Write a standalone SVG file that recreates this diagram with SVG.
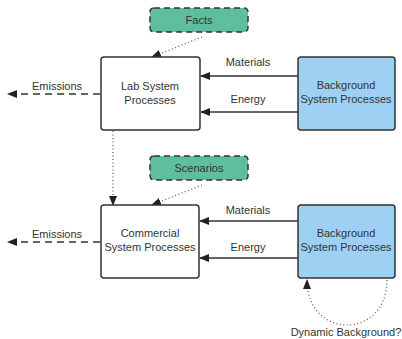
<svg xmlns="http://www.w3.org/2000/svg" width="402" height="339" viewBox="0 0 402 339">
<style>
.box{fill:#fff;stroke:#333;stroke-width:1.5}
.bg{fill:#9dd0f2;stroke:#333;stroke-width:1.5}
.note{fill:#5fbea0;stroke:#333;stroke-width:1.5;stroke-dasharray:6 4}
.t{font-family:"Liberation Sans",Arial,sans-serif;font-size:11px;fill:#333;text-anchor:middle}
.solid{fill:none;stroke:#333;stroke-width:1.5}
.dash{fill:none;stroke:#333;stroke-width:1.5;stroke-dasharray:7 5}
.dot{fill:none;stroke:#555;stroke-width:1.2;stroke-dasharray:1 2.5}
</style>
<defs>
<marker id="ah" markerWidth="10" markerHeight="8" refX="9" refY="4" orient="auto" markerUnits="userSpaceOnUse">
<path d="M0,0 L10,4 L0,8 Z" fill="#222"/>
</marker>
</defs>
<rect width="402" height="339" fill="#fff"/>
<g id="connectors">
<line class="solid" x1="298" y1="76" x2="201" y2="76" marker-end="url(#ah)"/>
<line class="solid" x1="298" y1="112" x2="201" y2="112" marker-end="url(#ah)"/>
<line class="solid" x1="298" y1="221" x2="200" y2="221" marker-end="url(#ah)"/>
<line class="solid" x1="298" y1="258" x2="200" y2="258" marker-end="url(#ah)"/>
<line class="dash" x1="100" y1="94" x2="8" y2="94" marker-end="url(#ah)"/>
<line class="dash" x1="100" y1="242" x2="8" y2="242" marker-end="url(#ah)"/>
<line class="dot" x1="202" y1="37" x2="152" y2="57" marker-end="url(#ah)"/>
<line class="dot" x1="202" y1="185" x2="152" y2="205" marker-end="url(#ah)"/>
<line class="dot" x1="113" y1="131" x2="113" y2="205" marker-end="url(#ah)"/>
<path class="dot" d="M387,280 C387,340 307,340 307,280" marker-end="url(#ah)"/>
<text class="t" x="57" y="90">Emissions</text>
<text class="t" x="57" y="238">Emissions</text>
<text class="t" x="248" y="66">Materials</text>
<text class="t" x="248" y="103">Energy</text>
<text class="t" x="248" y="214">Materials</text>
<text class="t" x="248" y="251">Energy</text>
<text class="t" x="346" y="336">Dynamic Background?</text>
</g>
<g id="facts">
<rect class="note" x="150" y="8" width="98" height="24" rx="4"/>
<text class="t" x="199" y="24">Facts</text>
</g>
<g id="scenarios">
<rect class="note" x="150" y="156" width="98" height="24" rx="4"/>
<text class="t" x="199" y="172">Scenarios</text>
</g>
<g id="lab">
<rect class="box" x="101" y="57" width="99" height="73" rx="3"/>
<text class="t" x="150" y="90">Lab System</text>
<text class="t" x="150" y="104">Processes</text>
</g>
<g id="commercial">
<rect class="box" x="101" y="205" width="98" height="73" rx="3"/>
<text class="t" x="150" y="237">Commercial</text>
<text class="t" x="150" y="251">System Processes</text>
</g>
<g id="background1">
<rect class="bg" x="298" y="57" width="97" height="73" rx="3"/>
<text class="t" x="346" y="89">Background</text>
<text class="t" x="346" y="103">System Processes</text>
</g>
<g id="background2">
<rect class="bg" x="298" y="205" width="97" height="73" rx="3"/>
<text class="t" x="346" y="237">Background</text>
<text class="t" x="346" y="251">System Processes</text>
</g>
</svg>
